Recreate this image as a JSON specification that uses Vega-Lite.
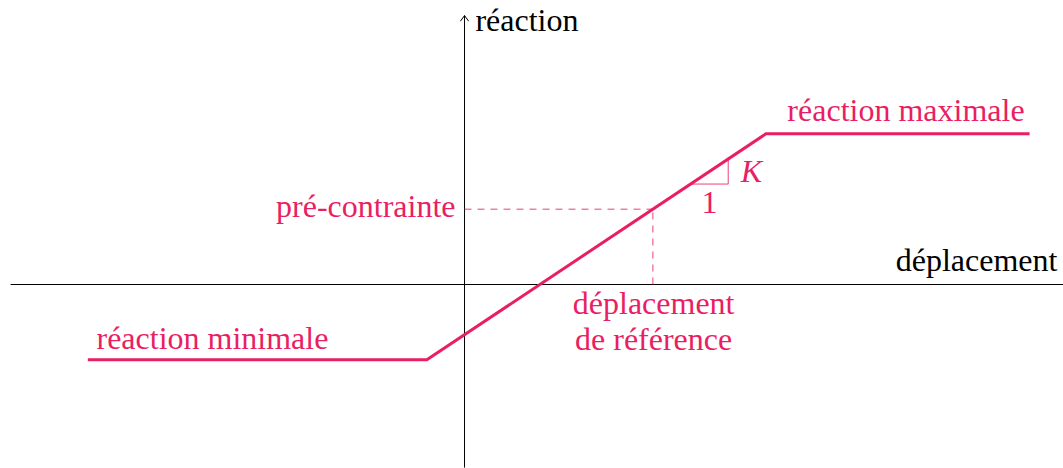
{
  "$schema": "https://vega.github.io/schema/vega-lite/v6.json",
  "width": 1063,
  "height": 468,
  "autosize": "none",
  "padding": 0,
  "background": "white",
  "config": {"view": {"stroke": null}},
  "datasets": {
    "axes": [
      {"x": -12.05, "x2": 15.9, "y": 0, "y2": 0},
      {"x": 0, "x2": 0, "y": -4.86, "y2": 7.14}
    ],
    "arrow": [
      {"x": -0.11, "y": 6.99, "o": 1},
      {"x": 0, "y": 7.14, "o": 2},
      {"x": 0.11, "y": 6.99, "o": 3}
    ],
    "dashes": [
      {"x": 0, "x2": 5, "y": 2, "y2": 2},
      {"x": 5, "x2": 5, "y": 0, "y2": 2}
    ],
    "response": [
      {"x": -10, "y": -2},
      {"x": -1, "y": -2},
      {"x": 8, "y": 4},
      {"x": 15, "y": 4}
    ],
    "triangle": [
      {"x": 6, "y": 2.667, "o": 1},
      {"x": 7, "y": 2.667, "o": 2},
      {"x": 7, "y": 3.333, "o": 3}
    ],
    "blackLeft": [
      {"x": 0.29, "y": 6.74, "t": "réaction"}
    ],
    "blackRight": [
      {"x": 15.74, "y": 0.37, "t": "déplacement"}
    ],
    "pinkLeft": [
      {"x": 8.57, "y": 4.33, "t": "réaction maximale"},
      {"x": -9.77, "y": -1.7, "t": "réaction minimale"}
    ],
    "pinkRight": [
      {"x": -0.24, "y": 1.805, "t": "pré-contrainte"}
    ],
    "pinkCenter": [
      {"x": 5.02, "y": -0.77, "t": "déplacement"},
      {"x": 5.02, "y": -1.75, "t": "de référence"},
      {"x": 6.5, "y": 1.91, "t": "1"}
    ],
    "kText": [{"x": 7.33, "y": 2.71, "t": "K"}]
  },
  "encoding": {
    "x": {"field": "x", "type": "quantitative", "axis": null, "scale": {"domain": [-12.331, 15.887], "nice": false, "zero": false}},
    "y": {"field": "y", "type": "quantitative", "axis": null, "scale": {"domain": [-4.871, 7.553], "nice": false, "zero": false}}
  },
  "layer": [
    {
      "data": {"name": "axes"},
      "mark": {"type": "rule", "color": "black", "strokeWidth": 1},
      "encoding": {"x2": {"field": "x2"}, "y2": {"field": "y2"}}
    },
    {
      "data": {"name": "arrow"},
      "mark": {"type": "line", "color": "black", "strokeWidth": 1},
      "encoding": {"order": {"field": "o", "type": "quantitative"}}
    },
    {
      "data": {"name": "dashes"},
      "mark": {"type": "rule", "color": "#E91E63", "strokeWidth": 1, "strokeDash": [7, 6], "opacity": 0.85},
      "encoding": {"x2": {"field": "x2"}, "y2": {"field": "y2"}}
    },
    {
      "data": {"name": "triangle"},
      "mark": {"type": "line", "color": "#E91E63", "strokeWidth": 1, "opacity": 0.85},
      "encoding": {"order": {"field": "o", "type": "quantitative"}}
    },
    {
      "data": {"name": "response"},
      "mark": {"type": "line", "color": "#E91E63", "strokeWidth": 3},
      "encoding": {}
    },
    {
      "data": {"name": "blackLeft"},
      "mark": {"type": "text", "font": "Liberation Serif", "fontSize": 32, "baseline": "alphabetic", "align": "left", "color": "black"},
      "encoding": {"text": {"field": "t"}}
    },
    {
      "data": {"name": "blackRight"},
      "mark": {"type": "text", "font": "Liberation Serif", "fontSize": 32, "baseline": "alphabetic", "align": "right", "color": "black"},
      "encoding": {"text": {"field": "t"}}
    },
    {
      "data": {"name": "pinkLeft"},
      "mark": {"type": "text", "font": "Liberation Serif", "fontSize": 32, "baseline": "alphabetic", "align": "left", "color": "#E91E63"},
      "encoding": {"text": {"field": "t"}}
    },
    {
      "data": {"name": "pinkRight"},
      "mark": {"type": "text", "font": "Liberation Serif", "fontSize": 32, "baseline": "alphabetic", "align": "right", "color": "#E91E63"},
      "encoding": {"text": {"field": "t"}}
    },
    {
      "data": {"name": "pinkCenter"},
      "mark": {"type": "text", "font": "Liberation Serif", "fontSize": 32, "baseline": "alphabetic", "align": "center", "color": "#E91E63"},
      "encoding": {"text": {"field": "t"}}
    },
    {
      "data": {"name": "kText"},
      "mark": {"type": "text", "font": "Liberation Serif", "fontSize": 32, "fontStyle": "italic", "baseline": "alphabetic", "align": "left", "color": "#E91E63"},
      "encoding": {"text": {"field": "t"}}
    }
  ]
}
